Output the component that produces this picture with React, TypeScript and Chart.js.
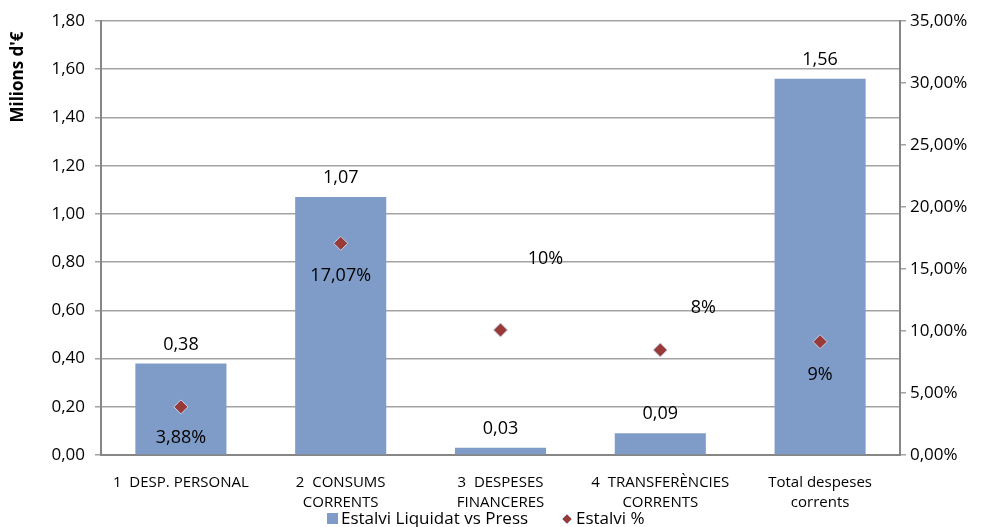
import { useEffect, useRef } from "react";
import { Chart, registerables } from "chart.js";

Chart.register(...registerables);

const categories: string[][] = [
  ["1  DESP. PERSONAL"],
  ["2  CONSUMS", "CORRENTS"],
  ["3  DESPESES", "FINANCERES"],
  ["4  TRANSFERÈNCIES", "CORRENTS"],
  ["Total despeses", "corrents"],
];
const savingsMillions: number[] = [0.38, 1.07, 0.03, 0.09, 1.56];
const savingsPct: number[] = [3.88, 17.07, 10.08, 8.47, 9.14];
const savingsPctLabels: string[] = ["3,88%", "17,07%", "10%", "8%", "9%"];
const barSeriesName = "Estalvi Liquidat vs Press";
const pctSeriesName = "Estalvi %";
const axisTitle = "Milions d'€";

const FONT = "'Open Sans', 'Noto Sans', sans-serif";
const BAR_COLOR = "#7F9CC8";
const MARK_COLOR = "#983A37";
const MARK_BORDER = "#C3D3EA";
const GRID = "#A3A3A3";
const AXIS = "#868686";

// label offsets (px) of the percentage labels relative to their markers
const pctLabelOffsets: [number, number][] = [
  [0, 31],
  [0, 33],
  [45, -71],
  [43, -42],
  [0, 33],
];

const fmt2 = (v: number) => v.toFixed(2).replace(".", ",");

export default function App() {
  const ref = useRef<HTMLCanvasElement | null>(null);

  useEffect(() => {
    if (!ref.current) return;

    const labelPlugin = {
      id: "customLabels",
      afterDatasetsDraw(chart: any) {
        const ctx = chart.ctx as CanvasRenderingContext2D;
        ctx.save();
        ctx.fillStyle = "#000";
        ctx.textAlign = "center";
        ctx.textBaseline = "middle";
        ctx.font = `18px ${FONT}`;
        const barMeta = chart.getDatasetMeta(0);
        barMeta.data.forEach((el: any, i: number) => {
          ctx.fillText(fmt2(savingsMillions[i]), el.x, el.y - 19);
        });
        const ptMeta = chart.getDatasetMeta(1);
        ptMeta.data.forEach((el: any, i: number) => {
          const [dx, dy] = pctLabelOffsets[i];
          ctx.fillText(savingsPctLabels[i], el.x + dx, el.y + dy);
        });
        ctx.restore();
      },
      afterDraw(chart: any) {
        const ctx = chart.ctx as CanvasRenderingContext2D;
        ctx.save();
        // axis title
        ctx.translate(18, 77);
        ctx.rotate(-Math.PI / 2);
        ctx.font = `bold 17px ${FONT}`;
        ctx.fillStyle = "#000";
        ctx.textAlign = "center";
        ctx.textBaseline = "middle";
        ctx.fillText(axisTitle, 0, 0);
        ctx.restore();

        // legend
        ctx.save();
        const ly = 519;
        ctx.fillStyle = BAR_COLOR;
        ctx.fillRect(327, ly - 6, 11, 11);
        ctx.font = `17px ${FONT}`;
        ctx.fillStyle = "#000";
        ctx.textBaseline = "middle";
        ctx.textAlign = "left";
        ctx.fillText(barSeriesName, 341, ly);
        ctx.beginPath();
        ctx.moveTo(567, ly - 5);
        ctx.lineTo(572, ly);
        ctx.lineTo(567, ly + 5);
        ctx.lineTo(562, ly);
        ctx.closePath();
        ctx.fillStyle = MARK_COLOR;
        ctx.fill();
        ctx.strokeStyle = MARK_BORDER;
        ctx.lineWidth = 1;
        ctx.stroke();
        ctx.fillStyle = "#000";
        ctx.fillText(pctSeriesName, 576, ly);
        ctx.restore();
      },
    };

    const chart = new Chart(ref.current, {
      type: "bar",
      data: {
        labels: categories as any,
        datasets: [
          {
            type: "bar",
            label: barSeriesName,
            data: savingsMillions,
            backgroundColor: BAR_COLOR,
            yAxisID: "y",
            categoryPercentage: 1,
            barPercentage: 0.57,
            order: 2,
          },
          {
            type: "line",
            label: pctSeriesName,
            data: savingsPct,
            yAxisID: "y1",
            showLine: false,
            pointStyle: "rectRot",
            pointRadius: 7,
            pointBackgroundColor: MARK_COLOR,
            pointBorderColor: MARK_BORDER,
            pointBorderWidth: 1,
            order: 1,
          } as any,
        ],
      },
      options: {
        animation: false,
        responsive: true,
        maintainAspectRatio: false,
        layout: { padding: { top: 21, left: 0, right: 0, bottom: 0 } },
        plugins: {
          legend: { display: false },
          tooltip: { enabled: false },
        },
        scales: {
          x: {
            grid: { display: false, drawTicks: false },
            border: { display: true, color: AXIS, width: 2 },
            ticks: {
              color: "#000",
              font: { family: FONT, size: 15, lineHeight: 1.33 },
              padding: 18,
              maxRotation: 0,
              autoSkip: false,
            },
            afterFit(scale: any) {
              scale.height = 72;
            },
          },
          y: {
            position: "left",
            min: 0,
            max: 1.8,
            grid: { color: GRID, lineWidth: 1.5, tickLength: 6 },
            border: { display: true, color: AXIS, width: 2 },
            ticks: {
              stepSize: 0.2,
              color: "#000",
              font: { family: FONT, size: 17 },
              padding: 10,
              callback: (v: any) => fmt2(Number(v)),
            },
            afterFit(scale: any) {
              scale.width = 101;
            },
          },
          y1: {
            position: "right",
            min: 0,
            max: 35,
            grid: { drawOnChartArea: false, color: GRID, lineWidth: 1.5, tickLength: 6 },
            border: { display: true, color: AXIS, width: 2 },
            ticks: {
              stepSize: 5,
              color: "#000",
              font: { family: FONT, size: 17 },
              padding: 4,
              callback: (v: any) => fmt2(Number(v)) + "%",
            },
            afterFit(scale: any) {
              scale.width = 85;
            },
          },
        },
      },
      plugins: [labelPlugin],
    });

    return () => chart.destroy();
  }, []);

  return (
    <div
      style={{
        position: "fixed",
        left: 0,
        top: 0,
        width: 985,
        height: 527,
        background: "#fff",
      }}
    >
      <canvas ref={ref} />
    </div>
  );
}
